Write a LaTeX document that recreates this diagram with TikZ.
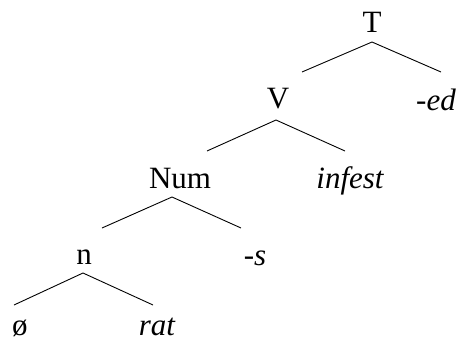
\documentclass[tikz,border=0pt]{standalone}
\usepackage{fontspec}
\setmainfont{Liberation Serif}[ItalicFont={Liberation Serif Italic}]
\usepackage{tikz}

\begin{document}
\begin{tikzpicture}[
      x=1pt, y=-1pt,
      label/.style={inner sep=0pt, anchor=base, font=\fontsize{31}{34}\selectfont},
      morph/.style={label, font=\fontsize{31}{34}\selectfont\itshape},
      branch/.style={line width=0.9pt}
    ]
    \useasboundingbox (0,0) rectangle (464,343);

    % Labels
    \node[label] (t) at (372,32) {T};
    \node[label] (v) at (278,108) {V};
    \node[morph] (ed) at (436,110) {-ed};
    \node[label] (num) at (180,188) {Num};
    \node[morph] (infest) at (350,188) {infest};
    \node[label] (n) at (84,264) {n};
    \node[morph] (s) at (255,265) {-s};
    \node[label] (null) at (20,335) {ø};
    \node[morph] (rat) at (157,335) {rat};

    % Branch points
    \coordinate (t-top) at (372,42);
    \coordinate (t-left) at (302,72);
    \coordinate (t-right) at (441,72);
    \coordinate (v-top) at (276,120);
    \coordinate (v-left) at (207,151);
    \coordinate (v-right) at (345,151);
    \coordinate (num-top) at (172,197);
    \coordinate (num-left) at (102,228);
    \coordinate (num-right) at (241,228);
    \coordinate (n-top) at (83,273);
    \coordinate (n-left) at (14,305);
    \coordinate (n-right) at (153,305);

    % Branches
    \draw[branch] (t-left) -- (t-top) -- (t-right);
    \draw[branch] (v-left) -- (v-top) -- (v-right);
    \draw[branch] (num-left) -- (num-top) -- (num-right);
    \draw[branch] (n-left) -- (n-top) -- (n-right);
\end{tikzpicture}
\end{document}
